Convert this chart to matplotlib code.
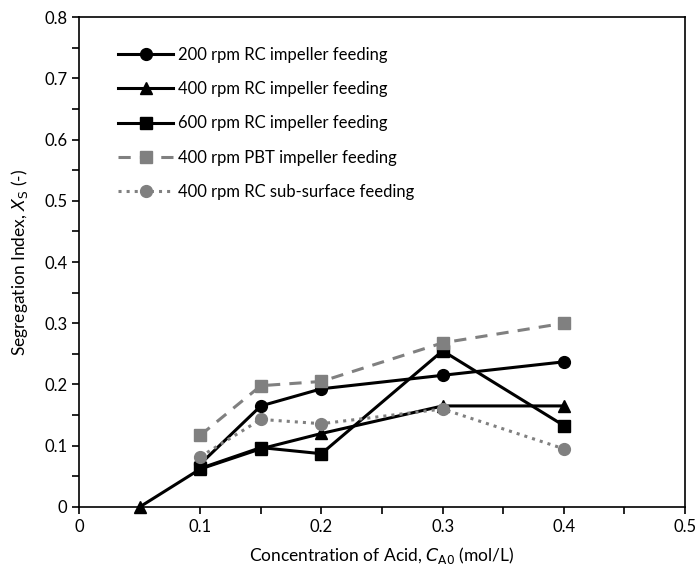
import numpy as np
import matplotlib.pyplot as plt
from matplotlib.ticker import MultipleLocator

plt.rcParams['font.family'] = ['Lato', 'DejaVu Sans']

# concentration of acid (mol/L)
x_200 = [0.1, 0.15, 0.2, 0.3, 0.4]
xs_200 = [0.070, 0.165, 0.193, 0.215, 0.237]

x_400 = [0.05, 0.1, 0.15, 0.2, 0.3, 0.4]
xs_400 = [0.0, 0.062, 0.095, 0.120, 0.165, 0.165]

x_600 = [0.1, 0.15, 0.2, 0.3, 0.4]
xs_600 = [0.063, 0.097, 0.087, 0.255, 0.133]

x_pbt = [0.1, 0.15, 0.2, 0.3, 0.4]
xs_pbt = [0.117, 0.198, 0.205, 0.268, 0.300]

x_sub = [0.1, 0.15, 0.2, 0.3, 0.4]
xs_sub = [0.082, 0.143, 0.136, 0.160, 0.095]

grey = "#808080"

fig = plt.figure(figsize=(6.95, 5.73), dpi=100)
ax = fig.add_axes([0.1137, 0.1152, 0.8719, 0.8551])

kw = dict(lw=2.2, clip_on=False)
ax.plot(x_200, xs_200, "-o", color="black", ms=8.5, label="200 rpm RC impeller feeding", **kw)
ax.plot(x_400, xs_400, "-^", color="black", ms=8.5, label="400 rpm RC impeller feeding", **kw)
ax.plot(x_600, xs_600, "-s", color="black", ms=8, label="600 rpm RC impeller feeding", **kw)
ax.plot(x_pbt, xs_pbt, "--s", color=grey, ms=8, dashes=(4, 3), label="400 rpm PBT impeller feeding", **kw)
ax.plot(x_sub, xs_sub, ":o", color=grey, ms=8.5, label="400 rpm RC sub-surface feeding", **kw)

ax.set_xlim(0, 0.5)
ax.set_ylim(0, 0.8)
ax.xaxis.set_major_locator(MultipleLocator(0.1))
ax.xaxis.set_minor_locator(MultipleLocator(0.05))
ax.yaxis.set_major_locator(MultipleLocator(0.1))
ax.yaxis.set_minor_locator(MultipleLocator(0.05))
ax.xaxis.set_major_formatter(lambda v, p: "0" if abs(v) < 1e-9 else f"{v:g}")
ax.yaxis.set_major_formatter(lambda v, p: "0" if abs(v) < 1e-9 else f"{v:g}")
ax.tick_params(which="both", direction="out", length=5, width=1.2, labelsize=12, colors="black")
for s in ax.spines.values():
    s.set_linewidth(1.2)

ax.set_xlabel("Concentration of Acid, $\\mathit{C}_{\\mathrm{A0}}$ (mol/L)", fontsize=12.5, labelpad=7)
ax.set_ylabel("Segregation Index, $\\mathit{X}_{\\mathrm{S}}$ (-)", fontsize=12.5, labelpad=10)

ax.legend(loc="upper left", bbox_to_anchor=(0.04, 0.97), frameon=False, fontsize=12,
          handlelength=3.3, labelspacing=1.1, handletextpad=0.3)

fig.savefig("out.png", dpi=100)
